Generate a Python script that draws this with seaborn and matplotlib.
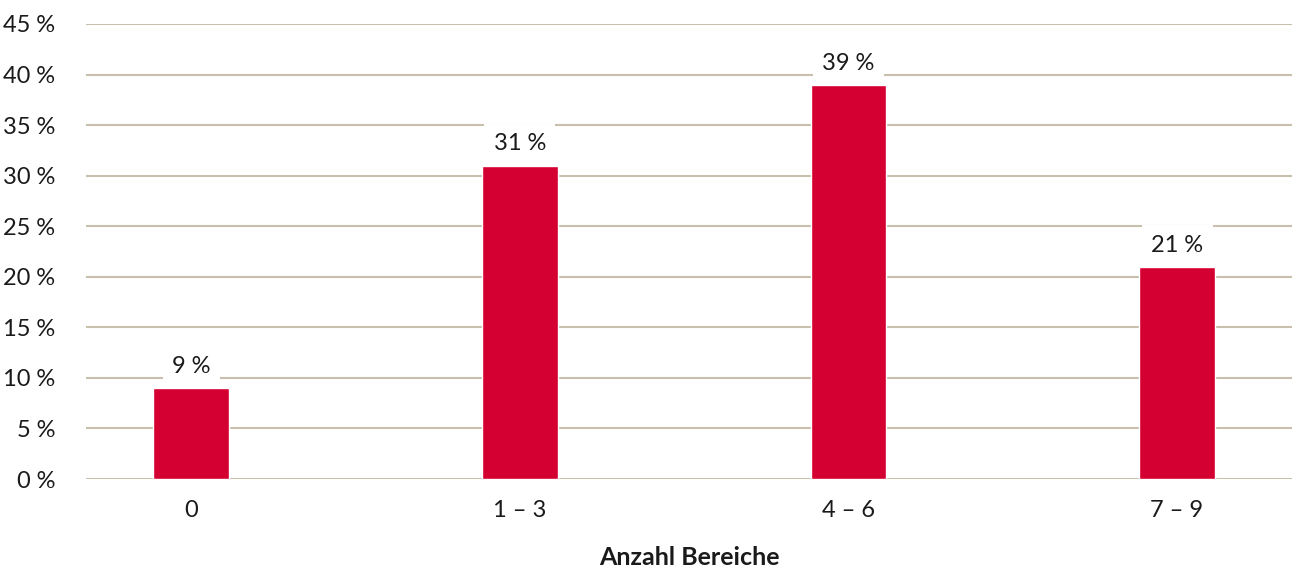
import matplotlib
matplotlib.use("Agg")
import matplotlib.pyplot as plt
import seaborn as sns
import pandas as pd

categories = ["0", "1 – 3", "4 – 6", "7 – 9"]
values = [9, 31, 39, 21]
y_ticks = [0, 5, 10, 15, 20, 25, 30, 35, 40, 45]
y_tick_labels = [f"{v}\u202f%" for v in y_ticks]
value_labels = [f"{v}\u202f%" for v in values]

sns.set_theme(style="white")
plt.rcParams["font.family"] = ["Lato", "DejaVu Sans"]

df = pd.DataFrame({"cat": categories, "val": values})

fig = plt.figure(figsize=(12.94, 5.67), dpi=100)
ax = fig.add_axes([0.0665, 0.1552, 0.932, 0.8025])

sns.barplot(data=df, x="cat", y="val", order=categories, color="#d50032",
            width=0.23, saturation=1, ax=ax, zorder=3)

ax.set_ylim(0, 45)
ax.set_xlim(-0.32, 3.35)
ax.set_yticks(y_ticks)
ax.set_yticklabels(y_tick_labels, fontsize=17, color="#1a1a1a")
ax.tick_params(axis="x", labelsize=17, colors="#1a1a1a", length=0, pad=15)
ax.tick_params(axis="y", length=0, pad=22)
ax.yaxis.grid(True, color="#c8c0ac", linewidth=1.5, zorder=0)
ax.set_axisbelow(True)
for s in ax.spines.values():
    s.set_visible(False)

ax.set_ylabel("")
ax.set_xlabel("Anzahl Bereiche", fontsize=18, fontweight="bold", color="#1a1a1a", labelpad=18)

for i, (v, lab) in enumerate(zip(values, value_labels)):
    ax.annotate(lab, xy=(i, v), xytext=(0, 8), textcoords="offset points",
                ha="center", va="bottom", fontsize=17, color="#1a1a1a", zorder=4,
                bbox=dict(boxstyle="square,pad=0.4", facecolor="white", edgecolor="none"))

fig.savefig("out.png", dpi=100)
